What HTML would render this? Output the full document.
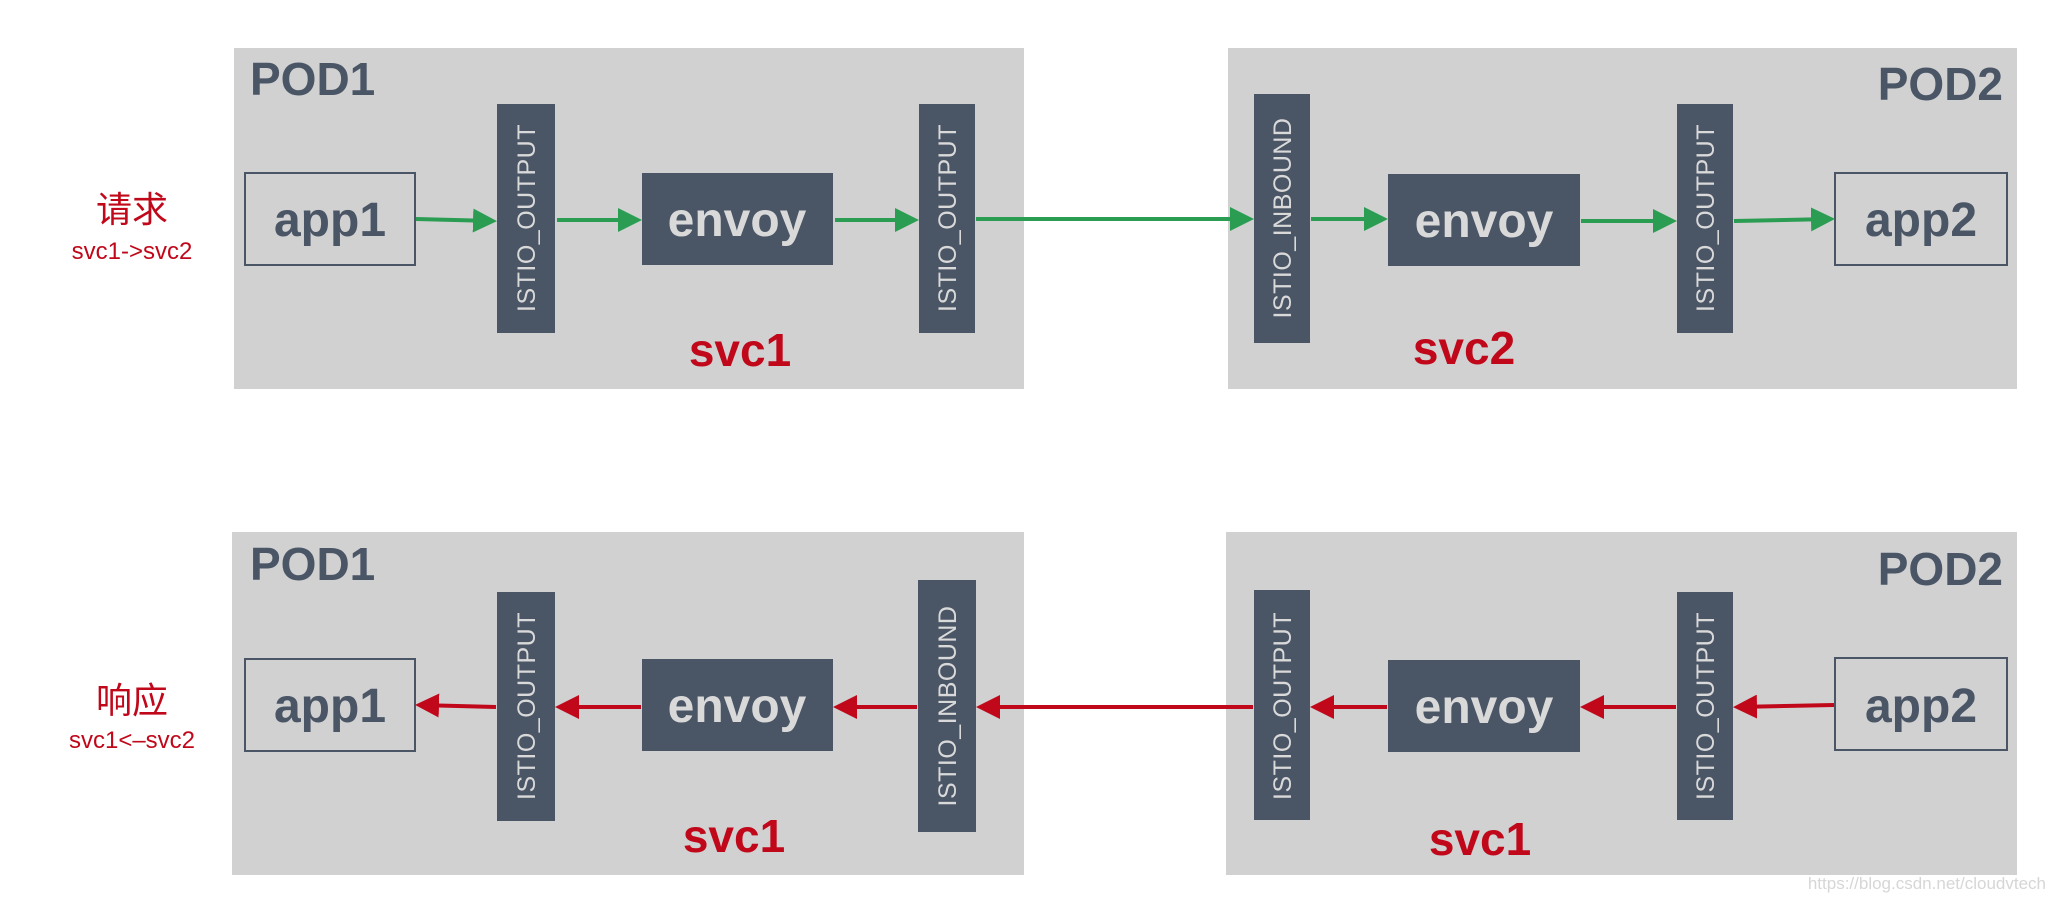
<!DOCTYPE html>
<html><head><meta charset="utf-8"><style>
html,body{margin:0;padding:0;background:#fff;}
svg{display:block}
.pod{fill:#d1d1d1}
.bar{fill:#4a5566}
.vt{font-family:"Liberation Sans",sans-serif;font-size:25px;fill:#d9d9d9;letter-spacing:0.5px}
.big{font-family:"Liberation Sans",sans-serif;font-size:48px;font-weight:bold}
.podt{font-family:"Liberation Sans",sans-serif;font-size:46px;font-weight:bold;fill:#4a5566}
.svc{font-family:"Liberation Sans",sans-serif;font-size:46px;font-weight:bold;fill:#c0081a}
.cn{font-family:"Liberation Sans","Noto Sans CJK SC",sans-serif;fill:#c0081a}
</style></head><body>
<svg width="2064" height="902" viewBox="0 0 2064 902" xmlns="http://www.w3.org/2000/svg">
<defs>
<marker id="g" markerWidth="6" markerHeight="6" refX="5" refY="3" orient="auto" markerUnits="strokeWidth"><path d="M0,0 L6,3 L0,6 z" fill="#2a9d52"/></marker>
<marker id="r" markerWidth="6" markerHeight="6" refX="5" refY="3" orient="auto" markerUnits="strokeWidth"><path d="M0,0 L6,3 L0,6 z" fill="#c0081a"/></marker>
</defs>
<!-- top row -->
<rect class="pod" x="234" y="48" width="790" height="341"/>
<rect class="pod" x="1228" y="48" width="789" height="341"/>
<text class="podt" x="250" y="95">POD1</text>
<text class="podt" x="2003" y="100" text-anchor="end">POD2</text>
<text class="cn" x="132" y="222" font-size="36" text-anchor="middle">请求</text>
<text class="cn" x="132" y="259" font-size="24" text-anchor="middle">svc1-&gt;svc2</text>
<rect x="245" y="173" width="170" height="92" fill="none" stroke="#4a5566" stroke-width="2"/>
<text class="big" x="330" y="236" text-anchor="middle" fill="#4a5566">app1</text>
<rect class="bar" x="497" y="104" width="58" height="229"/>
<text class="vt" transform="translate(535,218) rotate(-90)" text-anchor="middle">ISTIO_OUTPUT</text>
<rect class="bar" x="642" y="173" width="191" height="92"/>
<text class="big" x="737" y="236" text-anchor="middle" fill="#d9d9d9">envoy</text>
<rect class="bar" x="919" y="104" width="56" height="229"/>
<text class="vt" transform="translate(956,218) rotate(-90)" text-anchor="middle">ISTIO_OUTPUT</text>
<text class="svc" x="740" y="366" text-anchor="middle">svc1</text>
<rect class="bar" x="1254" y="94" width="56" height="249"/>
<text class="vt" transform="translate(1291,218) rotate(-90)" text-anchor="middle">ISTIO_INBOUND</text>
<rect class="bar" x="1388" y="174" width="192" height="92"/>
<text class="big" x="1484" y="237" text-anchor="middle" fill="#d9d9d9">envoy</text>
<rect class="bar" x="1677" y="104" width="56" height="229"/>
<text class="vt" transform="translate(1714,218) rotate(-90)" text-anchor="middle">ISTIO_OUTPUT</text>
<rect x="1835" y="173" width="172" height="92" fill="none" stroke="#4a5566" stroke-width="2"/>
<text class="big" x="1921" y="236" text-anchor="middle" fill="#4a5566">app2</text>
<text class="svc" x="1464" y="364" text-anchor="middle">svc2</text>
<g stroke="#2a9d52" stroke-width="4" fill="none">
<line x1="416" y1="219" x2="493" y2="221" marker-end="url(#g)"/>
<line x1="557" y1="220" x2="638" y2="220" marker-end="url(#g)"/>
<line x1="835" y1="220" x2="915" y2="220" marker-end="url(#g)"/>
<line x1="976" y1="219" x2="1250" y2="219" marker-end="url(#g)"/>
<line x1="1311" y1="219" x2="1384" y2="219" marker-end="url(#g)"/>
<line x1="1581" y1="221" x2="1673" y2="221" marker-end="url(#g)"/>
<line x1="1734" y1="221" x2="1831" y2="219" marker-end="url(#g)"/>
</g>
<!-- bottom row -->
<rect class="pod" x="232" y="532" width="792" height="343"/>
<rect class="pod" x="1226" y="532" width="791" height="343"/>
<text class="podt" x="250" y="580">POD1</text>
<text class="podt" x="2003" y="585" text-anchor="end">POD2</text>
<text class="cn" x="132" y="713" font-size="36" text-anchor="middle">响应</text>
<text class="cn" x="132" y="748" font-size="24" text-anchor="middle">svc1&lt;–svc2</text>
<rect x="245" y="659" width="170" height="92" fill="none" stroke="#4a5566" stroke-width="2"/>
<text class="big" x="330" y="722" text-anchor="middle" fill="#4a5566">app1</text>
<rect class="bar" x="497" y="592" width="58" height="229"/>
<text class="vt" transform="translate(535,706) rotate(-90)" text-anchor="middle">ISTIO_OUTPUT</text>
<rect class="bar" x="642" y="659" width="191" height="92"/>
<text class="big" x="737" y="722" text-anchor="middle" fill="#d9d9d9">envoy</text>
<rect class="bar" x="918" y="580" width="58" height="252"/>
<text class="vt" transform="translate(956,706) rotate(-90)" text-anchor="middle">ISTIO_INBOUND</text>
<text class="svc" x="734" y="852" text-anchor="middle">svc1</text>
<rect class="bar" x="1254" y="590" width="56" height="230"/>
<text class="vt" transform="translate(1291,706) rotate(-90)" text-anchor="middle">ISTIO_OUTPUT</text>
<rect class="bar" x="1388" y="660" width="192" height="92"/>
<text class="big" x="1484" y="723" text-anchor="middle" fill="#d9d9d9">envoy</text>
<rect class="bar" x="1677" y="592" width="56" height="228"/>
<text class="vt" transform="translate(1714,706) rotate(-90)" text-anchor="middle">ISTIO_OUTPUT</text>
<rect x="1835" y="658" width="172" height="92" fill="none" stroke="#4a5566" stroke-width="2"/>
<text class="big" x="1921" y="722" text-anchor="middle" fill="#4a5566">app2</text>
<text class="svc" x="1480" y="855" text-anchor="middle">svc1</text>
<g stroke="#c0081a" stroke-width="4" fill="none">
<line x1="496" y1="707" x2="419" y2="705" marker-end="url(#r)"/>
<line x1="641" y1="707" x2="559" y2="707" marker-end="url(#r)"/>
<line x1="917" y1="707" x2="837" y2="707" marker-end="url(#r)"/>
<line x1="1253" y1="707" x2="980" y2="707" marker-end="url(#r)"/>
<line x1="1387" y1="707" x2="1314" y2="707" marker-end="url(#r)"/>
<line x1="1676" y1="707" x2="1584" y2="707" marker-end="url(#r)"/>
<line x1="1834" y1="705" x2="1737" y2="707" marker-end="url(#r)"/>
</g>
<text x="2046" y="889" text-anchor="end" font-family="Liberation Sans, sans-serif" font-size="17" fill="#d6d6d6">https://blog.csdn.net/cloudvtech</text>
</svg>
</body></html>
